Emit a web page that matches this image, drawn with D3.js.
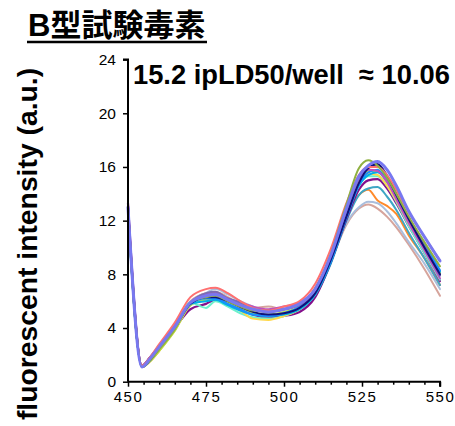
<!DOCTYPE html>
<html>
<head>
<meta charset="utf-8">
<script src="https://cdn.jsdelivr.net/npm/d3@7"></script>
<style>
  html, body { margin: 0; padding: 0; background: #fff; }
  svg { display: block; }
  text { font-family: "Liberation Sans", Arial, "Noto Sans CJK JP", sans-serif; }
</style>
</head>
<body>
<svg id="chart" width="455" height="426"></svg>
<script>
// ---- data ----
const titleText = "B型試験毒素";
const noteText = "15.2 ipLD50/well\u00a0\u00a0\u2248 10.06";
const yLabel = "fluorescent intensity (a.u.)";
const xTicks = [450, 475, 500, 525, 550];
const xMinorTicks = [455, 460, 465, 470, 480, 485, 490, 495, 505, 510, 515, 520, 530, 535, 540, 545];
const yTicks = [0, 4, 8, 12, 16, 20, 24];
const wavelengths = [450, 454.5, 457, 460, 465, 470, 475, 478, 482, 486, 490, 495, 500, 505, 510, 515, 520, 524, 527, 530, 533, 536, 540, 545, 550];

const seriesNames = ["s1","s2","s3","s4","s5","s6","s7","s8","s9","s10","s11","s12","s13","s14","s15","s16"];
const seriesColors = ["#d6a49c","#aabedc","#ff8a2a","#3ea6c4","#84108c","#6cf2cc","#ffd84a","#b8e04a","#00aee8","#1a8cff","#c050c0","#7c6cb4","#10107a","#ff7070","#8fb040","#7878f0"];
const s1  = [13.0,1.2,1.7,2.6,4.1,6.0,6.6,6.7,6.3,5.8,5.5,5.6,5.4,5.8,6.8,9.0,11.7,12.9,13.2,12.9,12.3,11.5,10.2,8.4,6.4];
const s2  = [13.0,1.2,1.7,2.6,4.1,5.9,6.6,6.9,6.5,6.0,5.6,5.3,5.4,5.8,6.8,9.0,11.8,13.0,13.4,13.3,12.7,11.8,10.4,8.8,6.9];
const s3  = [12.9,1.1,1.5,2.3,3.9,5.8,6.4,6.5,6.2,5.8,5.4,5.3,5.4,5.7,7.0,9.4,12.4,13.9,14.3,13.5,13.1,12.5,10.9,9.2,7.2];
const s4  = [12.6,1.1,1.6,2.4,3.9,5.7,6.2,6.3,5.9,5.5,5.1,5.0,5.1,5.4,6.4,8.8,12.0,13.9,14.4,14.5,13.8,12.8,11.1,9.2,7.2];
const s5  = [13.3,1.2,1.8,2.6,4.0,5.4,5.8,6.1,5.9,5.5,5.0,4.8,4.9,5.2,6.3,8.9,12.1,14.3,15.0,15.1,14.4,13.3,11.6,9.6,7.5];
const s6  = [12.8,1.1,1.6,2.4,3.9,5.9,5.5,6.0,5.6,5.1,4.8,4.7,4.9,5.4,6.5,9.0,12.3,14.6,15.3,15.3,14.6,13.4,11.6,9.6,7.6];
const s7  = [12.9,1.1,1.5,2.3,3.8,5.7,6.2,6.3,5.8,5.3,4.7,4.6,4.9,5.4,6.6,9.2,12.5,14.8,15.5,15.4,14.6,13.5,11.8,9.9,8.0];
const s8  = [12.8,1.1,1.5,2.3,3.8,5.7,6.1,6.2,5.9,5.4,5.1,5.0,5.2,5.6,6.7,9.2,12.5,14.9,15.7,15.7,14.9,13.7,12.0,10.0,8.1];
const s9  = [12.7,1.1,1.6,2.5,4.0,5.8,6.0,6.1,5.7,5.3,5.0,4.9,5.0,5.4,6.5,8.9,12.2,14.6,15.4,15.6,14.9,13.8,12.1,10.2,8.2];
const s10 = [12.9,1.1,1.6,2.5,4.0,5.8,6.2,6.2,5.8,5.4,5.0,4.9,5.1,5.6,6.7,9.0,12.3,14.7,15.6,15.8,15.0,13.9,12.2,10.3,8.3];
const s11 = [13.2,1.2,1.8,2.7,4.2,5.9,6.5,6.6,6.2,5.9,5.6,5.4,5.6,5.9,6.9,9.4,12.8,15.1,15.8,15.7,14.9,13.6,11.8,9.8,7.7];
const s12 = [13.1,1.2,1.8,2.7,4.2,5.9,6.6,6.7,6.2,5.9,5.5,5.3,5.4,5.7,6.8,9.3,12.7,15.2,16.0,16.2,15.4,14.0,12.2,10.1,7.9];
const s13 = [13.0,1.1,1.6,2.5,4.0,5.8,6.3,6.3,6.0,5.6,5.2,5.0,5.1,5.5,6.6,9.1,12.3,14.8,15.9,16.2,15.3,13.9,12.1,10.0,8.0];
const s14 = [13.0,1.2,1.8,2.8,4.4,6.3,6.9,7.0,6.6,6.0,5.5,5.3,5.6,6.0,7.3,9.9,13.3,15.4,16.0,16.0,15.4,14.3,12.6,10.8,9.0];
const s15 = [12.9,1.1,1.6,2.4,3.9,5.9,6.3,6.4,6.0,5.6,5.3,5.2,5.4,5.8,6.9,9.5,13.2,15.9,16.5,16.1,15.2,14.0,12.3,10.4,8.6];
const s16 = [13.0,1.1,1.7,2.6,4.1,5.9,6.4,6.5,6.1,5.7,5.4,5.2,5.4,5.8,6.9,9.4,12.9,15.3,16.1,16.4,15.8,14.6,12.7,10.8,9.0];
const seriesValues = [s1,s2,s3,s4,s5,s6,s7,s8,s9,s10,s11,s12,s13,s14,s15,s16];
const seriesWidths = [2,2,2,2,2.2,2,2,2,2,2,2,2,2,2,2,3];

// ---- chart ----
const svg = d3.select("#chart");
const x = d3.scaleLinear().domain([450, 550]).range([128, 440]);
const y = d3.scaleLinear().domain([0, 24]).range([381.7, 59.6]);

// title
svg.append("text").attr("x", 28).attr("y", 36)
  .attr("font-size", 31).attr("font-weight", "bold").attr("fill", "#000")
  .text(titleText);
svg.append("line").attr("x1", 27).attr("x2", 207).attr("y1", 42).attr("y2", 42)
  .attr("stroke", "#000").attr("stroke-width", 2.5);

// y label
svg.append("text")
  .attr("transform", "translate(37,244) rotate(-90)")
  .attr("text-anchor", "middle")
  .attr("font-size", 28.3).attr("font-weight", "bold").attr("fill", "#000")
  .text(yLabel);

// lines
const line = d3.line().x((d, i) => x(wavelengths[i])).y(d => y(d)).curve(d3.curveMonotoneX);
svg.append("g").selectAll("path").data(seriesValues).join("path")
  .attr("d", d => line(d))
  .attr("fill", "none")
  .attr("stroke", (d, i) => seriesColors[i])
  .attr("stroke-width", (d, i) => seriesWidths[i])
  .attr("stroke-linejoin", "round").attr("stroke-linecap", "round");

// axes
const yAxis = svg.append("g").attr("transform", "translate(128,0)")
  .call(d3.axisLeft(y).tickValues(yTicks).tickSize(5).tickPadding(7).tickFormat(d3.format("d")));
const xAxis = svg.append("g").attr("transform", "translate(0,381.7)")
  .call(d3.axisBottom(x).tickValues(xTicks).tickSize(5).tickPadding(5).tickFormat(d3.format("d")));
svg.append("g").attr("transform", "translate(0,381.7)")
  .call(d3.axisBottom(x).tickValues(xMinorTicks).tickSize(3).tickFormat(""))
  .call(g => g.select(".domain").remove());

svg.selectAll(".domain").attr("stroke", "#000").attr("stroke-width", 2);
svg.selectAll(".tick line").attr("stroke", "#000").attr("stroke-width", 1.5);
yAxis.selectAll("text").attr("font-size", 15.5).attr("fill", "#000")
  .style("font-family", "'Liberation Sans', Arial, sans-serif");
xAxis.selectAll("text").attr("font-size", 15).attr("fill", "#000")
  .attr("letter-spacing", 1.5)
  .style("font-family", "'Liberation Sans', Arial, sans-serif");
yAxis.select(".domain").attr("d", `M-5,${y(24)}H0V${y(0)}`);
xAxis.select(".domain").attr("d", `M${x(450)},0H${x(550)}V5`);

// note
svg.append("text").attr("x", 133).attr("y", 84)
  .attr("font-size", 27.3).attr("font-weight", "bold").attr("fill", "#000")
  .text(noteText);
</script>
</body>
</html>
